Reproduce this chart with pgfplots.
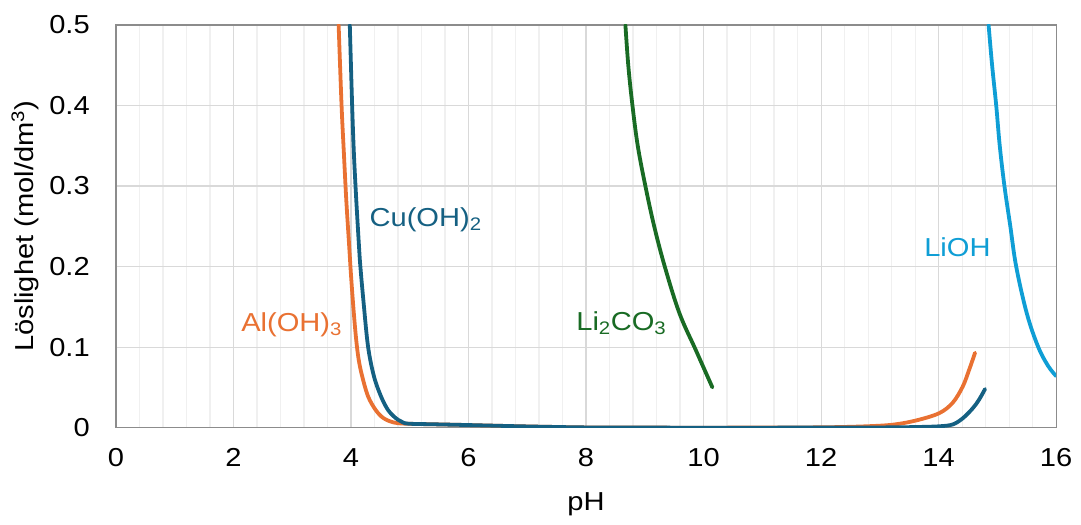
\documentclass[border=0pt]{standalone}
\usepackage{fontspec}
\setmainfont{Liberation Sans}[FakeStretch=1.12]
\usepackage{pgfplots}
\pgfplotsset{compat=1.18}
\definecolor{cucol}{HTML}{156082}
\definecolor{alcol}{HTML}{E97132}
\definecolor{lccol}{HTML}{196B24}
\definecolor{licol}{HTML}{0F9ED5}
\begin{document}
\fontsize{26}{31}\selectfont
\begin{tikzpicture}
\path (-116pt,-92pt) rectangle (965pt,428pt);
\begin{axis}[
  at={(0,0)}, anchor=south west,
  scale only axis, width=941pt, height=403pt,
  xmin=0, xmax=16, ymin=0, ymax=0.5,
  xtick={0,2,4,6,8,10,12,14,16},
  xticklabels={0,2,4,6,8,10,12,14,16},
  ytick={0,0.1,0.2,0.3,0.4,0.5},
  yticklabels={0,0.1,0.2,0.3,0.4,0.5},
  minor x tick num=4,
  xmajorgrids, ymajorgrids, xminorgrids,
  major grid style={color=black!15, line width=1.2pt},
  minor grid style={color=black!6, line width=1.2pt},
  major tick length=0pt, minor tick length=0pt,
  axis line style={color=black!45, line width=1.3pt},
  x tick label style={anchor=center, yshift=-30pt},
  y tick label style={anchor=east, inner sep=0pt, xshift=-26pt},
  xlabel={pH},
  xlabel style={at={(axis description cs:0.5,-0.191)}, anchor=center},
  ylabel={Löslighet (mol/dm\textsuperscript{3})},
  ylabel style={at={(axis description cs:-0.0967,0.5)}, anchor=center},
  every axis plot/.append style={line width=3.8pt, line join=round, line cap=round},
]
% Al(OH)3
\addplot[alcol, smooth, tension=0.55] coordinates {
 (3.79,0.5) (3.84,0.4) (3.88,0.34) (3.92,0.283) (3.97,0.225) (4.00,0.19)
 (4.04,0.150) (4.085,0.112) (4.13,0.085) (4.19,0.064) (4.29,0.039) (4.42,0.022) (4.55,0.012)
 (4.72,0.0066) (4.91,0.005) (5.4,0.0042) (5.96,0.0033) (6.7,0.002) (7.38,0.001)
 (8.2,0.0002) (10,0) (11.5,0.0002) (12.2,0.0006) (12.77,0.0017)
 (13.22,0.0037) (13.62,0.009) (14.01,0.018) (14.24,0.031) (14.41,0.051)
 (14.52,0.072) (14.62,0.093)};
% Cu(OH)2
\addplot[cucol, smooth, tension=0.55] coordinates {
 (3.98,0.5) (4.02,0.4) (4.05,0.34) (4.09,0.283) (4.14,0.221) (4.16,0.2)
 (4.21,0.159) (4.29,0.101) (4.39,0.064) (4.51,0.039) (4.63,0.022) (4.76,0.012)
 (4.86,0.0075) (4.97,0.005) (5.4,0.0042) (5.96,0.0033) (6.7,0.002) (7.38,0.001)
 (8.2,0.0002) (10,0) (12.5,0.0001) (13.2,0.0004) (13.62,0.0008)
 (14.01,0.0017) (14.24,0.004) (14.41,0.0116) (14.58,0.024) (14.69,0.035) (14.79,0.048)};
% Li2CO3
\addplot[lccol, smooth, tension=0.6] coordinates {
 (8.67,0.5) (8.72,0.449) (8.79,0.4) (8.88,0.35) (9.01,0.3) (9.16,0.25)
 (9.34,0.2) (9.59,0.142) (9.87,0.096) (10.15,0.05)};
% LiOH
\addplot[licol, smooth, tension=0.6] coordinates {
 (14.85,0.5) (14.91,0.45) (14.98,0.4) (15.04,0.35) (15.12,0.3) (15.22,0.25)
 (15.32,0.2) (15.50,0.142) (15.69,0.101) (15.86,0.077) (16.0,0.064)};
\node[text=cucol] at (axis cs:5.27,0.258) {Cu(OH)\textsubscript{2}};
\node[text=alcol] at (axis cs:2.99,0.128) {Al(OH)\textsubscript{3}};
\node[text=lccol] at (axis cs:8.60,0.130) {Li\textsubscript{2}CO\textsubscript{3}};
\node[text=licol] at (axis cs:14.32,0.2235) {LiOH};
\end{axis}
\end{tikzpicture}
\end{document}
